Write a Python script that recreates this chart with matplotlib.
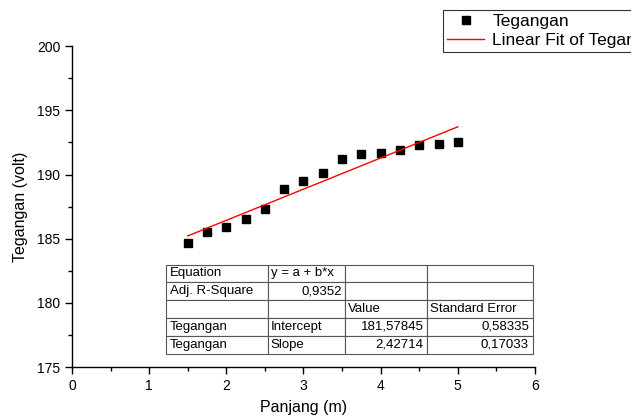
import matplotlib
matplotlib.use("Agg")
import matplotlib.pyplot as plt
from matplotlib.ticker import MultipleLocator

plt.rcParams['font.family'] = ['Liberation Sans', 'DejaVu Sans']

# Measured data
panjang = [1.5, 1.75, 2.0, 2.25, 2.5, 2.75, 3.0, 3.25, 3.5, 3.75, 4.0, 4.25, 4.5, 4.75, 5.0]
tegangan = [184.7, 185.5, 185.9, 186.5, 187.3, 188.9, 189.5, 190.1,
            191.2, 191.6, 191.7, 191.9, 192.3, 192.4, 192.5]

# Linear fit results
intercept = 181.57845
intercept_err = 0.58335
slope = 2.42714
slope_err = 0.17033
adj_r2 = 0.9352

fig = plt.figure(figsize=(6.31, 4.17), dpi=100)
ax = fig.add_axes([0.1141, 0.1195, 0.7337, 0.770])

ax.plot(panjang, tegangan, linestyle='none', marker='s', markersize=6.3,
        color='black', label='Tegangan')
fit_x = [panjang[0], panjang[-1]]
fit_y = [intercept + slope * x for x in fit_x]
ax.plot(fit_x, fit_y, color='red', linewidth=1.0, label='Linear Fit of Tegangan')

ax.set_xlim(0, 6)
ax.set_ylim(175, 200)
ax.xaxis.set_major_locator(MultipleLocator(1))
ax.xaxis.set_minor_locator(MultipleLocator(0.5))
ax.yaxis.set_major_locator(MultipleLocator(5))
ax.yaxis.set_minor_locator(MultipleLocator(2.5))
ax.tick_params(which='major', direction='out', length=5, width=1, labelsize=10)
ax.tick_params(which='minor', direction='out', length=3, width=1)
for side in ('top', 'right'):
    ax.spines[side].set_visible(False)
for side in ('left', 'bottom'):
    ax.spines[side].set_linewidth(1.0)

ax.set_xlabel('Panjang (m)', fontsize=11.5, labelpad=5)
ax.set_ylabel('Tegangan (volt)', fontsize=11.5, labelpad=6)

# Fit summary table
fmt = lambda v, d: f"{v:.{d}f}".replace('.', ',')
cells = [
    ['Equation', 'y = a + b*x', '', ''],
    ['Adj. R-Square', fmt(adj_r2, 4), '', ''],
    ['', '', 'Value', 'Standard Error'],
    ['Tegangan', 'Intercept', fmt(intercept, 5), fmt(intercept_err, 5)],
    ['Tegangan', 'Slope', fmt(slope, 5), fmt(slope_err, 5)],
]
col_px = [101.3, 77, 81.7, 106]
total = sum(col_px)
x0 = (166.7 - 72.3) / 462.7
x1 = (532.7 - 72.3) / 462.7
y0 = (366.9 - 353.3) / 320.9
y1 = (366.9 - 264.3) / 320.9
tbl = ax.table(cellText=cells, colWidths=[w / total for w in col_px],
               bbox=[x0, y0, x1 - x0, y1 - y0], cellLoc='left')
tbl.auto_set_font_size(False)
tbl.set_fontsize(9.5)
for (r, c), cell in tbl.get_celld().items():
    cell.set_edgecolor('#555555')
    cell.set_linewidth(0.8)
    cell.PAD = 0.035
    txt = cell.get_text()
    if (r == 1 and c == 1) or (r >= 3 and c >= 2):
        txt.set_ha('right')
    else:
        txt.set_ha('left')

# Legend box runs past the right edge of the figure
leg = fig.legend(loc='upper left', bbox_to_anchor=(443 / 631, 1 - 10 / 417),
                 frameon=True, fancybox=False, fontsize=12.5,
                 borderpad=0.25, labelspacing=0.2, handlelength=2.1,
                 handletextpad=0.5, borderaxespad=0)
leg.get_frame().set_edgecolor('black')
leg.get_frame().set_linewidth(0.8)

fig.savefig('out.png', dpi=100)
